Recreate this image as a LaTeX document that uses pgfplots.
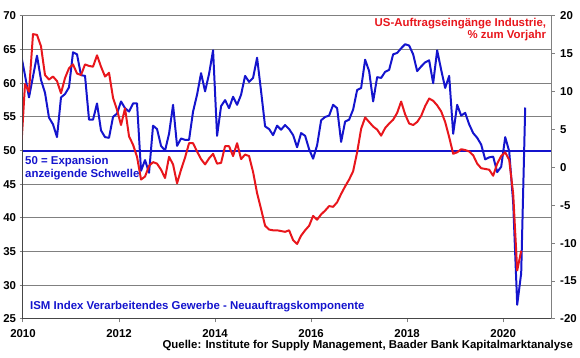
\documentclass[border=0pt]{standalone}
\usepackage{fontspec}
\setmainfont{Liberation Sans}
\usepackage{pgfplots}
\usepackage{pgfplotstable}
\pgfplotsset{compat=1.18}
\definecolor{ismblue}{RGB}{20,20,205}
\definecolor{ordred}{RGB}{232,22,28}
\definecolor{gridgray}{RGB}{128,128,128}
\definecolor{axisdark}{RGB}{70,70,70}

% month index m: 0 = Jan 2010
\pgfplotstableread{
m v
-1 64.3
0 61.2
1 57.9
2 61.0
3 64.1
4 60.5
5 58.6
6 54.9
7 53.9
8 52.0
9 57.9
10 58.4
11 59.4
12 64.6
13 64.3
14 61.2
15 61.1
16 54.6
17 54.6
18 57.0
19 53.0
20 52.0
21 51.9
22 55.0
23 55.5
24 57.3
25 56.3
26 55.8
27 57.0
28 57.0
29 47.0
30 48.6
31 46.7
32 53.7
33 53.2
34 50.7
35 50.0
36 52.5
37 56.8
38 50.7
39 51.8
40 51.6
41 51.6
42 55.8
43 58.3
44 61.5
45 58.8
46 61.4
47 64.9
48 52.2
49 56.6
50 57.5
51 56.3
52 58.0
53 56.8
54 58.3
55 61.1
56 60.2
57 60.8
58 63.8
59 58.8
60 53.6
61 53.2
62 52.3
63 53.7
64 53.1
65 53.8
66 53.2
67 52.3
68 50.5
69 52.6
70 52.2
71 50.2
72 48.8
73 50.8
74 54.5
75 55.0
76 55.2
77 56.8
78 56.3
79 51.3
80 54.3
81 54.6
82 56.1
83 59.0
84 59.3
85 63.5
86 61.8
87 57.3
88 60.9
89 60.8
90 61.7
91 62.0
92 64.3
93 64.5
94 65.2
95 65.8
96 65.6
97 64.3
98 61.8
99 62.5
100 63.1
101 63.4
102 60.0
103 64.9
104 62.0
105 59.3
106 61.1
107 52.5
108 56.8
109 55.2
110 55.6
111 53.9
112 52.6
113 51.9
114 50.9
115 48.7
116 49.0
117 49.1
118 46.8
119 47.6
120 52.0
121 49.9
122 42.2
123 27.1
124 31.8
125 56.4
}\ismdata

\pgfplotstableread{
m v
-1 2.0
0 11.0
1 10.0
2 17.6
3 17.5
4 16.0
5 12.2
6 11.6
7 12.0
8 11.4
9 9.8
10 11.8
11 13.1
12 13.6
13 12.4
14 12.2
15 13.6
16 13.4
17 13.3
18 14.8
19 13.3
20 12.0
21 12.5
22 9.2
23 7.6
24 5.6
25 7.8
26 4.1
27 3.0
28 1.4
29 -1.6
30 -1.2
31 0.2
32 0.7
33 0.5
34 -0.3
35 -1.4
36 1.4
37 0.4
38 -2.1
39 -0.3
40 1.3
41 3.2
42 3.2
43 2.1
44 1.1
45 0.4
46 1.2
47 1.8
48 0.5
49 0.6
50 2.8
51 2.8
52 1.5
53 3.2
54 1.1
55 1.7
56 1.5
57 -0.6
58 -3.4
59 -5.5
60 -7.7
61 -8.2
62 -8.3
63 -8.3
64 -8.4
65 -8.5
66 -8.3
67 -9.6
68 -10.1
69 -9.0
70 -8.3
71 -7.7
72 -6.4
73 -6.9
74 -6.2
75 -5.7
76 -5.1
77 -5.2
78 -4.6
79 -3.5
80 -2.5
81 -1.6
82 -0.5
83 2.0
84 5.1
85 6.6
86 6.0
87 5.4
88 5.0
89 4.2
90 5.2
91 5.8
92 6.3
93 7.2
94 8.7
95 7.0
96 5.8
97 5.6
98 6.0
99 6.8
100 8.1
101 9.1
102 8.8
103 8.2
104 7.4
105 6.0
106 4.0
107 1.8
108 2.0
109 2.4
110 2.3
111 2.1
112 1.6
113 0.5
114 -0.1
115 -0.2
116 -0.3
117 -1.1
118 0.5
119 1.5
120 2.0
121 1.0
122 -3.5
123 -13.6
124 -11.0
}\orddata

\begin{document}
\begin{tikzpicture}
\pgfplotsset{
  common/.style={
    at={(0,0)}, anchor=south west,
    scale only axis, width=530bp, height=304bp,
    xmin=2010, xmax=2021,
    tick align=outside, major tick length=3.5bp,
    tick style={gridgray, line width=1bp},
    ticklabel style={font=\bfseries\fontsize{11.5}{12}\selectfont, text=black},
  }
}
\begin{axis}[common,
  ymin=25, ymax=70,
  axis x line*=bottom, axis y line*=left,
  axis line style={axisdark, line width=1bp, -},
  xtick={2010,2012,...,2020}, xticklabels={2010,2012,2014,2016,2018,2020},
  xticklabel style={yshift=-4bp},
  ytick={25,30,...,70}, yticklabels={25,30,35,40,45,50,55,60,65,70},
  ymajorgrids, grid style={gridgray, line width=1bp},
]
\addplot[ismblue, line width=2bp] coordinates {(2010,50) (2021,50)};
\addplot[ismblue, line width=2bp, line join=round] table[x expr=2010+(\thisrow{m}+0.5)/12, y=v] \ismdata;
\end{axis}
\begin{axis}[common,
  ymin=-20, ymax=20,
  axis x line=none, axis y line*=right,
  axis line style={gridgray, line width=1bp, -},
  ytick={-20,-15,...,20}, yticklabels={-20,-15,-10,-5,0,5,10,15,20},
  yticklabel style={xshift=2bp},
]
\addplot[ordred, line width=2bp, line join=round] table[x expr=2010+(\thisrow{m}+0.5)/12, y=v] \orddata;
\end{axis}
\node[anchor=north west, inner sep=0pt, align=left, text=ismblue, font=\bfseries\fontsize{11.5}{12.5}\selectfont] at (2bp,163bp) {50 = Expansion\\anzeigende Schwelle};
\node[anchor=west, inner sep=0pt, text=ismblue, font=\bfseries\fontsize{11.5}{12.5}\selectfont] at (7bp,12bp) {ISM Index Verarbeitendes Gewerbe - Neuauftragskomponente};
\node[anchor=north east, inner sep=0pt, align=right, text=ordred, font=\bfseries\fontsize{11.5}{12.5}\selectfont] at (525bp,302bp) {US-Auftragseingänge Industrie,\\\% zum Vorjahr};
\node[anchor=east, inner sep=0pt, text=black, font=\bfseries\fontsize{11.5}{12.5}\selectfont] at (552bp,-27bp) {Quelle: Institute for Supply Management, Baader Bank Kapitalmarktanalyse};
\path[use as bounding box] (-23bp,-39bp) rectangle (557bp,320bp);
\end{tikzpicture}
\end{document}
